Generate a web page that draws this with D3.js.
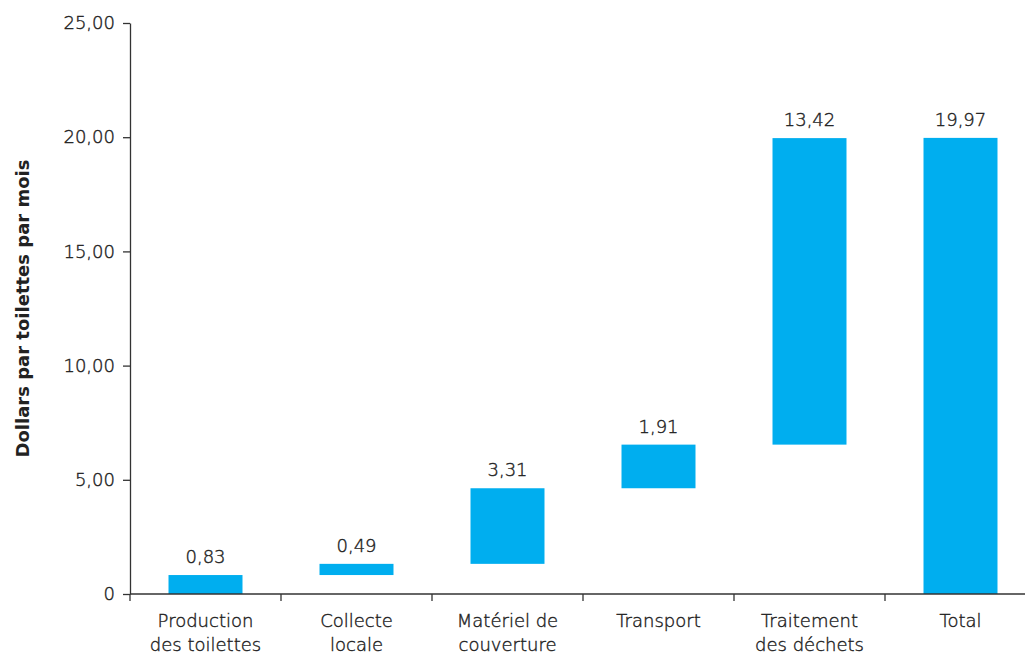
<!DOCTYPE html>
<html><head><meta charset="utf-8">
<script src="https://cdn.jsdelivr.net/npm/d3@7"></script>
<style>
body{margin:0;background:#fff;}
text{font-family:"DejaVu Sans",sans-serif;}
.lt{font-weight:200;fill:#222;stroke:#222;stroke-width:0.4px;}
</style></head>
<body><svg id="c" width="1025" height="656"></svg>
<script>
const categories = [["Production","des toilettes"],["Collecte","locale"],["Matériel de","couverture"],["Transport"],["Traitement","des déchets"],["Total"]];
const values = [0.83, 0.49, 3.31, 1.91, 13.42, 19.97];
const isTotal = [false,false,false,false,false,true];
const valueLabels = ["0,83","0,49","3,31","1,91","13,42","19,97"];
const yTicks = [0,5,10,15,20,25];
const yTickLabels = ["0","5,00","10,00","15,00","20,00","25,00"];

const FONT = "DejaVu Sans, sans-serif";
const svg = d3.select("#c");
const m = {l:130, t:23, b:62};
const W = 1025, H = 656;
const x = d3.scaleBand().domain(d3.range(values.length)).range([m.l, m.l+6*151]).paddingInner(0.51).paddingOuter(0.255);
const y = d3.scaleLinear().domain([0,25]).range([H-m.b, m.t]);

let cum = 0;
const bars = values.map((v,i)=>{
  let lo, hi;
  if(isTotal[i]){ lo=0; hi=v; } else { lo=cum; hi=cum+v; cum=hi; }
  return {i, lo, hi};
});

svg.selectAll("rect.bar").data(bars).join("rect")
  .attr("x", d=>x(d.i)).attr("width", x.bandwidth())
  .attr("y", d=>y(d.hi)).attr("height", d=>y(d.lo)-y(d.hi))
  .attr("fill","#00AEEF");

svg.selectAll("text.val").data(bars).join("text").attr("class","lt")
  .attr("x", d=>x(d.i)+x.bandwidth()/2).attr("y", d=>y(d.hi)-12)
  .attr("text-anchor","middle").attr("font-size",18)
  .text(d=>valueLabels[d.i]);

// y axis
const ya = svg.append("g").attr("transform",`translate(${m.l},0)`)
  .call(d3.axisLeft(y).tickValues(yTicks).tickFormat((d,i)=>yTickLabels[i]).tickSize(7).tickPadding(8).tickSizeOuter(0));
ya.selectAll("text").attr("class","lt").attr("font-size",18).attr("font-family",FONT);
ya.selectAll("line,path").attr("stroke","#333").attr("stroke-width",1.3);

// x axis
const xa = svg.append("g").attr("transform",`translate(0,${y(0)})`);
xa.append("line").attr("x1",m.l).attr("x2",W).attr("stroke","#333").attr("stroke-width",1.3);
const bounds = d3.range(values.length).map(i=>x(i)-x.step()*x.paddingInner()/2);
xa.selectAll("line.tk").data(bounds).join("line").attr("class","tk")
  .attr("x1",d=>d).attr("x2",d=>d).attr("y1",0).attr("y2",7).attr("stroke","#333").attr("stroke-width",1.3);
const cl = svg.selectAll("text.cat").data(categories).join("text").attr("class","lt")
  .attr("text-anchor","middle").attr("font-size",18);
cl.each(function(lines,i){
  d3.select(this).selectAll("tspan").data(lines).join("tspan")
    .attr("x", x(i)+x.bandwidth()/2).attr("y",(d,j)=>y(0)+33+j*24).text(d=>d);
});

svg.append("text").attr("transform",`translate(29,${(y(0)+y(25))/2}) rotate(-90)`)
  .attr("text-anchor","middle").attr("font-size",18).attr("font-weight","bold").attr("fill","#222")
  .text("Dollars par toilettes par mois");
</script></body></html>
